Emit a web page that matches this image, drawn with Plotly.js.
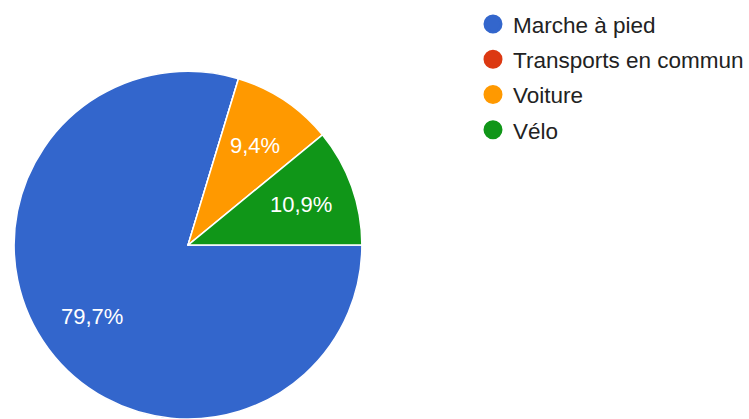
<!DOCTYPE html>
<html>
<head>
<meta charset="utf-8">
<script src="https://cdn.plot.ly/plotly-3.0.1.min.js"></script>
<style>html,body{margin:0;padding:0;background:#fff;}#chart{width:749px;height:419px;}</style>
</head>
<body>
<div id="chart"></div>
<script>
var categories = ["Marche à pied", "Transports en commun", "Voiture", "Vélo"];
var counts = [51, 0, 6, 7];
var colors = ["#3366cc", "#dc3912", "#ff9900", "#109618"];

var W = 749, H = 419;
var domX = [0.018, 0.484], domY = [0, 0.83];
var startAngle = 90; // degrees clockwise from 12 o'clock

var total = counts.reduce(function(a, b){ return a + b; }, 0);
var pctLabels = counts.map(function(v){
  return v > 0 ? (v / total * 100).toFixed(1).replace('.', ',') + '%' : '';
});

var traces = [{
  type: 'pie',
  labels: categories,
  values: counts,
  textinfo: 'none',
  sort: false,
  direction: 'clockwise',
  rotation: startAngle,
  marker: {colors: colors, line: {color: '#ffffff', width: 1.5}},
  domain: {x: domX, y: domY},
  showlegend: false,
  hoverinfo: 'label+percent'
}];

categories.forEach(function(c, i){
  traces.push({
    type: 'scatter',
    mode: 'markers',
    x: [null], y: [null],
    name: c,
    legendgroup: 'g' + i,
    marker: {color: colors[i], size: 16, symbol: 'circle', line: {color: colors[i], width: 3}},
    showlegend: true,
    hoverinfo: 'skip'
  });
});

// percentage labels placed along each slice bisector (derived from data)
var pxW = (domX[1] - domX[0]) * W, pxH = (domY[1] - domY[0]) * H;
var R = Math.min(pxW, pxH) / 2;
var cx = (domX[0] + domX[1]) / 2 * W;
var cy = H - (domY[0] + domY[1]) / 2 * H;
var annotations = [];
var cum = 0;
counts.forEach(function(v, i){
  var a0 = startAngle + cum / total * 360;
  cum += v;
  var a1 = startAngle + cum / total * 360;
  if (v > 0) {
    var mid = (a0 + a1) / 2 * Math.PI / 180;
    var r = 0.69 * R;
    var px = cx + r * Math.sin(mid);
    var py = cy - r * Math.cos(mid);
    annotations.push({
      xref: 'paper', yref: 'paper',
      x: px / W, y: 1 - py / H,
      xanchor: 'center', yanchor: 'middle',
      text: pctLabels[i], showarrow: false,
      font: {family: 'Liberation Sans, Arial, sans-serif', size: 22, color: '#ffffff'}
    });
  }
});

var layout = {
  width: W, height: H,
  margin: {l: 0, r: 0, t: 0, b: 0},
  paper_bgcolor: '#ffffff',
  plot_bgcolor: '#ffffff',
  xaxis: {visible: false},
  yaxis: {visible: false},
  showlegend: true,
  annotations: annotations,
  legend: {
    x: 0.6315, xanchor: 'left',
    y: 0.993, yanchor: 'top',
    font: {family: 'Liberation Sans, Arial, sans-serif', size: 22.5, color: '#222222'},
    tracegroupgap: 3,
    bgcolor: 'rgba(0,0,0,0)'
  }
};

Plotly.newPlot('chart', traces, layout, {displayModeBar: false, staticPlot: true});
</script>
</body>
</html>
